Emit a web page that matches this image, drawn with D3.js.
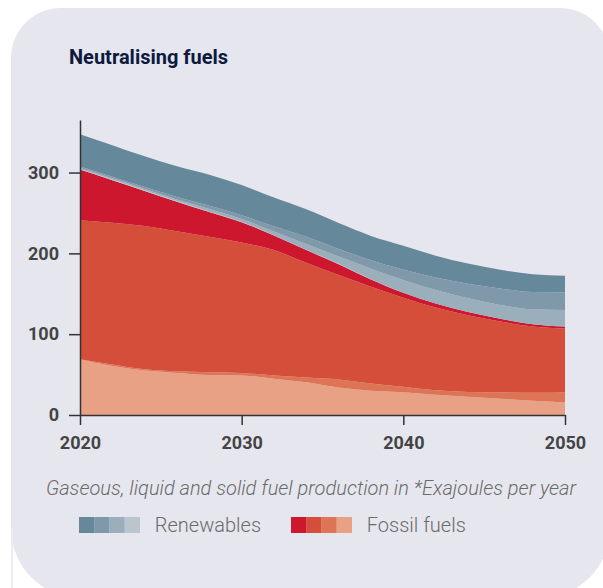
<!DOCTYPE html>
<html>
<head>
<meta charset="utf-8">
<script src="https://cdn.jsdelivr.net/npm/d3@7"></script>
<style>
  html, body { margin: 0; padding: 0; background: #ffffff; }
  svg { display: block; font-family: Roboto, "Noto Sans", sans-serif; }
</style>
</head>
<body>
<svg id="chart" width="603" height="588"></svg>
<script>
// Fuel production (EJ per year), sampled every two years
const years = [2020, 2022, 2024, 2026, 2028, 2030, 2032, 2034, 2036, 2038, 2040, 2042, 2044, 2046, 2048, 2050];

// Fossil fuels (bottom of the stack upwards)
const fossilPeach   = [69, 60.5, 55, 52, 49.5, 49, 45, 40.5, 34, 30, 28, 25, 22.5, 20, 17.5, 15.6];
const fossilOrange  = [0, 2, 1.5, 2, 3.5, 3, 4, 6, 10, 9, 7, 5.5, 6, 8, 10, 12.3];
const fossilRed     = [172, 175.5, 177.5, 173.3, 167.5, 161.5, 155, 141.8, 129.1, 119.8, 110.2, 102.5, 94.9, 87.6, 81.9, 79];
const fossilCrimson = [62.7, 52.5, 43.3, 36.7, 30.7, 25, 18, 15.7, 13.5, 9, 6, 5, 4, 3.5, 3, 2.5];

// Renewables (stacked above the fossil fuels)
const renewLightest = [0.8, 0.8, 0.7, 0.7, 0.6, 0.6, 0.5, 0.5, 0.4, 0.3, 0.2, 0.1, 0, 0, 0, 0];
const renewLight    = [1, 1.5, 1.5, 2, 3, 3.5, 4.5, 7, 9, 13, 15.5, 16.5, 17, 17, 18.3, 20.6];
const renewMid      = [2, 2, 2.5, 3, 4, 4.5, 6.5, 9, 9.5, 10.5, 13, 15.5, 18, 20.5, 21.5, 21.9];
const renewDark     = [40, 39, 38, 38, 38.5, 37.4, 35.5, 34, 32, 30, 29.5, 27, 25, 23, 22, 20.4];

const yTicks = [0, 100, 200, 300];
const xTicks = [2020, 2030, 2040, 2050];

const seriesKeys   = ["fossilPeach", "fossilOrange", "fossilRed", "fossilCrimson",
                      "renewLightest", "renewLight", "renewMid", "renewDark"];
const seriesValues = [fossilPeach, fossilOrange, fossilRed, fossilCrimson,
                      renewLightest, renewLight, renewMid, renewDark];
const colors = {
  fossilPeach: "#e8a185", fossilOrange: "#dd7456", fossilRed: "#d54e39", fossilCrimson: "#cc172e",
  renewLightest: "#bac5cd", renewLight: "#9aaebb", renewMid: "#7f99aa", renewDark: "#65889b"
};
const renewLegend = ["#65889b", "#7f99aa", "#9aaebb", "#bac5cd"];
const fossilLegend = ["#cc172e", "#d54e39", "#dd7456", "#e8a185"];

// Build row table for d3.stack
const table = years.map((yr, i) => {
  const row = { year: yr };
  seriesKeys.forEach((k, j) => { row[k] = seriesValues[j][i]; });
  return row;
});

const svg = d3.select("#chart");

// Card background with rounded corners
function cardPath(x0, y0, x1, y1, rTL, rTR, rBR, rBL) {
  return `M${x0 + rTL},${y0} L${x1 - rTR},${y0} A${rTR},${rTR} 0 0 1 ${x1},${y0 + rTR}` +
         ` L${x1},${y1 - rBR} A${rBR},${rBR} 0 0 1 ${x1 - rBR},${y1}` +
         ` L${x0 + rBL},${y1} A${rBL},${rBL} 0 0 1 ${x0},${y1 - rBL}` +
         ` L${x0},${y0 + rTL} A${rTL},${rTL} 0 0 1 ${x0 + rTL},${y0} Z`;
}
svg.append("path")
  .attr("d", cardPath(11, 8, 610, 598, 50, 50, 70, 70))
  .attr("fill", "#e6e6ef");
svg.append("rect").attr("x", 11).attr("y", 528).attr("width", 2).attr("height", 60).attr("fill", "#ebebf2");

// Title
svg.append("text")
  .attr("x", 69).attr("y", 64)
  .attr("font-size", 20).attr("font-weight", 700)
  .attr("fill", "#0d1a3e")
  .text("Neutralising fuels");

// Scales
const x = d3.scaleLinear().domain([2020, 2050]).range([80, 565]);
const y = d3.scaleLinear().domain([0, 365]).range([415, 120]);

const stack = d3.stack().keys(seriesKeys);
const layers = stack(table);

const area = d3.area()
  .x(d => x(d.data.year))
  .y0(d => y(d[0]))
  .y1(d => y(d[1]))
  .curve(d3.curveMonotoneX);

svg.append("g").selectAll("path")
  .data(layers)
  .join("path")
  .attr("d", area)
  .attr("fill", d => colors[d.key]);

// Axes
const yAxis = svg.append("g")
  .attr("transform", "translate(80,0)")
  .call(d3.axisLeft(y).tickValues(yTicks).tickSize(11).tickSizeOuter(0).tickPadding(10));
const xAxis = svg.append("g")
  .attr("transform", "translate(0,415)")
  .call(d3.axisBottom(x).tickValues(xTicks).tickFormat(d3.format("d")).tickSize(10).tickSizeOuter(0).tickPadding(11));

[yAxis, xAxis].forEach(g => {
  g.select(".domain").attr("stroke", "#333").attr("stroke-width", 1.5);
  g.selectAll(".tick line").attr("stroke", "#333").attr("stroke-width", 1.5);
  g.selectAll(".tick text")
    .attr("fill", "#444")
    .attr("font-size", 18)
    .attr("font-weight", 700)
    .attr("font-family", "Roboto, sans-serif");
});

// Caption
svg.append("text")
  .attr("x", 311).attr("y", 495)
  .attr("text-anchor", "middle")
  .attr("font-size", 20).attr("font-style", "italic").attr("font-weight", 300)
  .attr("fill", "#6b6b6b")
  .text("Gaseous, liquid and solid fuel production in *Exajoules per year");

// Legend
function legendGroup(x0, swatches, label) {
  const g = svg.append("g");
  g.selectAll("rect").data(swatches).join("rect")
    .attr("x", (d, i) => x0 + i * 15.2)
    .attr("y", 517)
    .attr("width", 15.4).attr("height", 16)
    .attr("fill", d => d);
  g.append("text")
    .attr("x", x0 + 4 * 15.2 + 15).attr("y", 532)
    .attr("font-size", 20).attr("font-weight", 300)
    .attr("fill", "#6b6b6b")
    .text(label);
}
legendGroup(79, renewLegend, "Renewables");
legendGroup(291, fossilLegend, "Fossil fuels");
</script>
</body>
</html>
